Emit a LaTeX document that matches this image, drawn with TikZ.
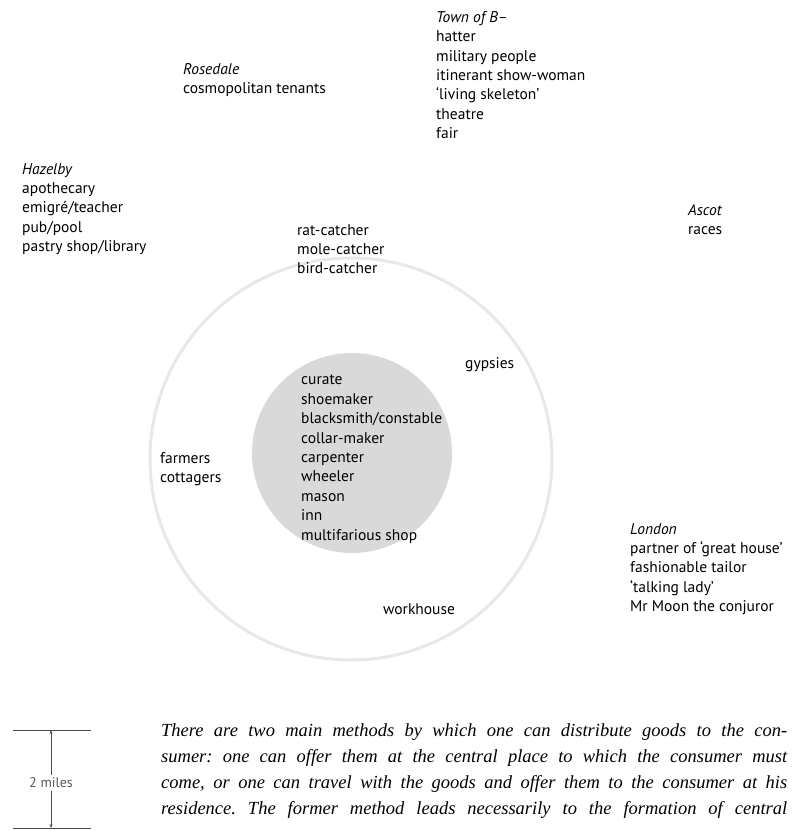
\documentclass[tikz,border=0pt]{standalone}
\usepackage{fontspec}
\setmainfont{PT Sans}
\newfontfamily\parafont{Liberation Serif}
\usetikzlibrary{positioning,arrows.meta}
\begin{document}
\begin{tikzpicture}[x=1pt,y=-1pt,
  place/.style={anchor=north west,inner sep=0pt,align=left,font=\fontsize{15.5}{19.4}\selectfont},
  ring/.style={draw=black!9,line width=3pt},
  core/.style={fill=black!15},
  tick/.style={draw=black!70,line width=0.7pt},
  bar/.style={draw=black!70,line width=0.6pt,-{Stealth[length=4pt,width=3pt]}}]
\def\rOut{201}
\def\rIn{100}
\useasboundingbox (0,0) rectangle (802,830);
% the two zones round the village
\draw[ring] (351,459) circle (\rOut);
\fill[core] (352,453) circle (\rIn);
%\draw[help lines,step=50] (0,0) grid (802,830);
\path
(183,63) node [place] (rose) {\textit{Rosedale}\\cosmopolitan tenants}
(436,11) node [place] (town) {\textit{Town of B–}\\hatter\\military people\\itinerant show-woman\\‘living skeleton’\\theatre\\fair}
(22,163) node [place] (hazel) {\textit{Hazelby}\\apothecary\\emigré/teacher\\pub/pool\\pastry shop/library}
(688,204) node [place] (ascot) {\textit{Ascot}\\races}
(297,224) node [place] (catch) {rat-catcher\\mole-catcher\\bird-catcher}
(465,357) node [place] (gyps) {gypsies}
(301,375) node [place] (trades) {curate\\shoemaker\\blacksmith/constable\\collar-maker\\carpenter\\wheeler\\mason\\inn\\multifarious shop}
(160,452) node [place] (farm) {farmers\\cottagers}
(630,523) node [place] (london) {\textit{London}\\partner of ‘great house’\\fashionable tailor\\‘talking lady’\\Mr Moon the conjuror}
(383,603) node [place] (work) {workhouse}
;
% scale bar
\coordinate (tickTL) at (13,730);
\coordinate (tickTR) at (91,730);
\coordinate (tickBL) at (13,828);
\coordinate (tickBR) at (91,828);
\coordinate (barT) at (51,730);
\coordinate (barB) at (51,828);
\draw[tick] (tickTL) -- (tickTR);
\draw[tick] (tickBL) -- (tickBR);
\node[inner sep=3pt,text=black!65,font=\fontsize{14}{16}\selectfont] (miles) at (51,783) {2 miles};
\draw[bar] (miles) -- (barT);
\draw[bar] (miles) -- (barB);
% the quotation below
\node[anchor=north west,inner sep=0pt,text width=626pt,align=justify,
  font=\parafont\itshape\fontsize{18.5}{26}\selectfont] (quote) at (161,723)
{\frenchspacing\parfillskip=0pt There are two main methods by which one can distribute goods to the con-\linebreak
sumer: one can offer them at the central place to which the consumer must\linebreak
come, or one can travel with the goods and offer them to the consumer at his\linebreak
residence. The former method leads necessarily to the formation of central\par};
\end{tikzpicture}
\end{document}
